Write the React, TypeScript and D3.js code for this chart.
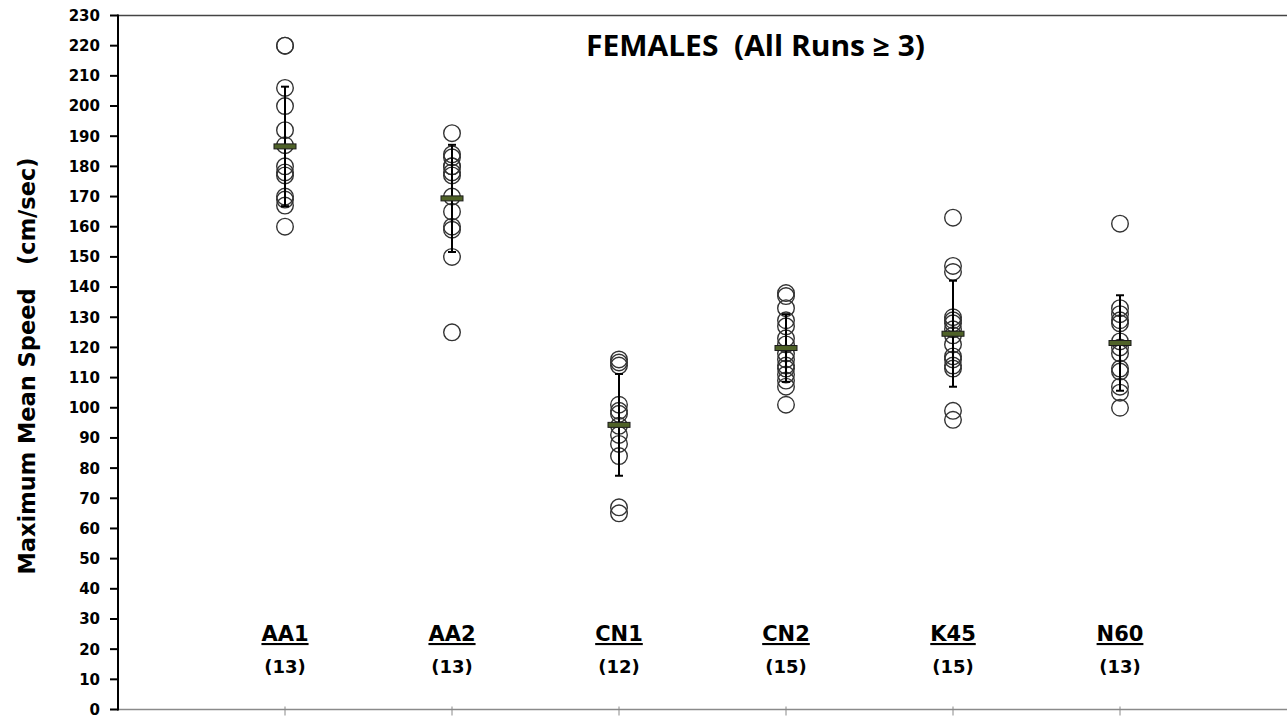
import React from "react";
import * as d3 from "d3";

// Group names and sample sizes shown under each column
const groups = ["AA1", "AA2", "CN1", "CN2", "K45", "N60"];
const counts = [13, 13, 12, 15, 15, 13];

// Maximum mean speed (cm/sec) of each female, per group
const aa1 = [220, 220, 206, 200, 192, 187, 180, 178, 177, 170, 169, 167, 160];
const aa2 = [191, 184, 183, 180, 180, 178, 177, 170, 165, 160, 159, 150, 125];
const cn1 = [116, 115, 114, 101, 99, 98, 94, 91, 88, 84, 67, 65];
const cn2 = [138, 137, 133, 129, 127, 123, 121, 118, 116, 114, 113, 111, 109, 107, 101];
const k45 = [163, 147, 145, 130, 129, 128, 126, 124, 121, 117, 116, 114, 113, 99, 96];
const n60 = [161, 133, 131, 129, 128, 122, 120, 118, 113, 112, 107, 105, 100];

const yTicks = d3.range(0, 231, 10);

const W = 1287;
const H = 718;
const left = 118;
const top = 15.5;
const bottom = 709.5;

export default function App() {
  const series = [aa1, aa2, cn1, cn2, k45, n60];
  const x = d3.scaleLinear().domain([0, 7]).range([left, W]);
  const y = d3.scaleLinear().domain([0, 230]).range([bottom, top]);

  const tickFont = "'DejaVu Sans', Verdana, sans-serif";

  return (
    <svg
      width={W}
      height={H}
      style={{ position: "absolute", left: 0, top: 0, background: "#fff" }}
    >
      <rect x={0} y={0} width={W} height={H} fill="#fff" />

      {/* plot frame: top border and category axis */}
      <line x1={left} x2={W} y1={top} y2={top} stroke="#444" strokeWidth={1.5} />
      <line x1={left} x2={W} y1={bottom} y2={bottom} stroke="#8a8a8a" strokeWidth={1.5} />
      {groups.map((g, i) => (
        <line
          key={"xt" + g}
          x1={x(i + 1)}
          x2={x(i + 1)}
          y1={bottom - 3}
          y2={bottom + 6}
          stroke="#8a8a8a"
          strokeWidth={1}
        />
      ))}

      {/* value axis */}
      <line x1={left} x2={left} y1={top - 1} y2={bottom + 1} stroke="#000" strokeWidth={2} />
      {yTicks.map((t) => (
        <g key={"yt" + t}>
          <line x1={left - 8} x2={left} y1={y(t)} y2={y(t)} stroke="#000" strokeWidth={2} />
          <text
            x={100}
            y={y(t)}
            dy="0.36em"
            textAnchor="end"
            fontFamily={tickFont}
            fontWeight="bold"
            fontSize={15}
            fill="#000"
          >
            {t}
          </text>
        </g>
      ))}

      <text
        transform={`translate(35, ${366}) rotate(-90)`}
        textAnchor="middle"
        fontFamily={tickFont}
        fontWeight="bold"
        fontSize={22.5}
        fill="#000"
        style={{ whiteSpace: "pre" }}
      >
        {"Maximum Mean Speed   (cm/sec)"}
      </text>

      <text
        x={755.5}
        y={56}
        textAnchor="middle"
        fontFamily="'Open Sans', Lato, sans-serif"
        fontWeight="bold"
        fontSize={28}
        textLength={339}
        lengthAdjust="spacingAndGlyphs"
        fill="#000"
        style={{ whiteSpace: "pre" }}
      >
        {"FEMALES  (All Runs \u2265 3)"}
      </text>

      {/* individual animals */}
      {series.map((vals, i) =>
        vals.map((v, j) => (
          <circle
            key={`p${i}-${j}`}
            cx={x(i + 1)}
            cy={y(v)}
            r={8.3}
            fill="none"
            stroke="#333"
            strokeWidth={1.4}
          />
        ))
      )}

      {/* mean ± SD */}
      {series.map((vals, i) => {
        const m = d3.mean(vals) as number;
        const sd = d3.deviation(vals) as number;
        const cx = x(i + 1);
        return (
          <g key={"m" + i}>
            <line x1={cx} x2={cx} y1={y(m + sd)} y2={y(m - sd)} stroke="#000" strokeWidth={2} />
            <line x1={cx - 4} x2={cx + 4} y1={y(m + sd)} y2={y(m + sd)} stroke="#000" strokeWidth={2} />
            <line x1={cx - 4} x2={cx + 4} y1={y(m - sd)} y2={y(m - sd)} stroke="#000" strokeWidth={2} />
            <rect
              x={cx - 11}
              y={y(m) - 2.5}
              width={22}
              height={5}
              fill="#4f6228"
              stroke="#1b1b1b"
              strokeWidth={1}
            />
          </g>
        );
      })}

      {/* group labels */}
      {groups.map((g, i) => (
        <g key={"lab" + g}>
          <text
            x={x(i + 1)}
            y={641}
            textAnchor="middle"
            fontFamily={tickFont}
            fontWeight="bold"
            fontSize={21}
            textDecoration="underline"
            fill="#000"
          >
            {g}
          </text>
          <text
            x={x(i + 1)}
            y={673}
            textAnchor="middle"
            fontFamily={tickFont}
            fontWeight="bold"
            fontSize={18}
            fill="#000"
          >
            {`(${counts[i]})`}
          </text>
        </g>
      ))}
    </svg>
  );
}
